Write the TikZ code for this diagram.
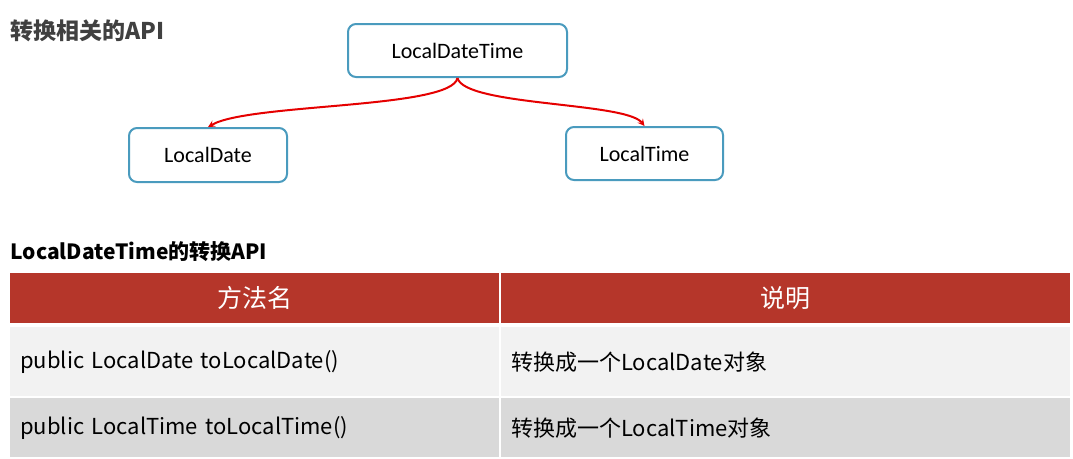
\documentclass[tikz,border=0pt]{standalone}
\usepackage{fontspec}
\setmainfont{Noto Sans CJK SC}
\newfontfamily\nodefont{Carlito}
\usetikzlibrary{arrows}
\definecolor{boxblue}{HTML}{4A9BBE}
\definecolor{headred}{HTML}{B5362A}
\definecolor{rowlight}{HTML}{F2F2F2}
\definecolor{rowdark}{HTML}{D9D9D9}
\definecolor{titlegray}{HTML}{404040}
\tikzstyle{classbox} = [rectangle, rounded corners=8pt, line width=2pt, draw=boxblue, fill=white, font=\nodefont\fontsize{22}{26}\selectfont]
\tikzstyle{conv} = [line width=2pt, red!90!black, ->, >=stealth]
\tikzstyle{headcell} = [rectangle, fill=headred, text=white, inner sep=0, minimum height=50pt, font=\fontsize{25}{30}\selectfont]
\tikzstyle{cell} = [rectangle, inner xsep=10pt, inner ysep=0, align=left, font=\fontsize{22}{26}\selectfont]

\begin{document}
\begin{tikzpicture}[x=1pt,y=-1pt]
\useasboundingbox (0,0) rectangle (1073,458);

\node[anchor=west, text=titlegray, font=\bfseries\fontsize{23}{27}\selectfont] (title) at (7,31) {转换相关的API};

\node[classbox, minimum width=219pt, minimum height=53pt] (ldt) at (457.5,50.5) {LocalDateTime};
\node[classbox, minimum width=158pt, minimum height=54pt] (ld) at (208,155) {LocalDate};
\node[classbox, minimum width=157pt, minimum height=53pt] (lt) at (644.5,153.5) {LocalTime};

\draw[conv] (ldt.south) .. controls +(-6,31) and +(42,-24) .. (ld.north);
\draw[conv] (ldt.south) .. controls +(7,28) and +(-19,-24) .. (lt.north);

\node[anchor=west, font=\bfseries\fontsize{21}{25}\selectfont] (tabtitle) at (7,252) {LocalDateTime的转换API};

\node[headcell, minimum width=489pt, anchor=north west] (h1) at (10,273) {方法名};
\node[headcell, minimum width=569pt, anchor=north west] (h2) at (501,273) {说明};

\node[cell, fill=rowlight, text width=469pt, minimum height=69pt, anchor=north west] (r1a) at (10,327) {public LocalDate toLocalDate()};
\node[cell, fill=rowlight, text width=549pt, minimum height=69pt, anchor=north west] (r1b) at (501,327) {转换成一个LocalDate对象};
\node[cell, fill=rowdark, text width=469pt, minimum height=59pt, anchor=north west] (r2a) at (10,398) {public LocalTime toLocalTime()};
\node[cell, fill=rowdark, text width=549pt, minimum height=59pt, anchor=north west] (r2b) at (501,398) {转换成一个LocalTime对象};
\end{tikzpicture}
\end{document}
